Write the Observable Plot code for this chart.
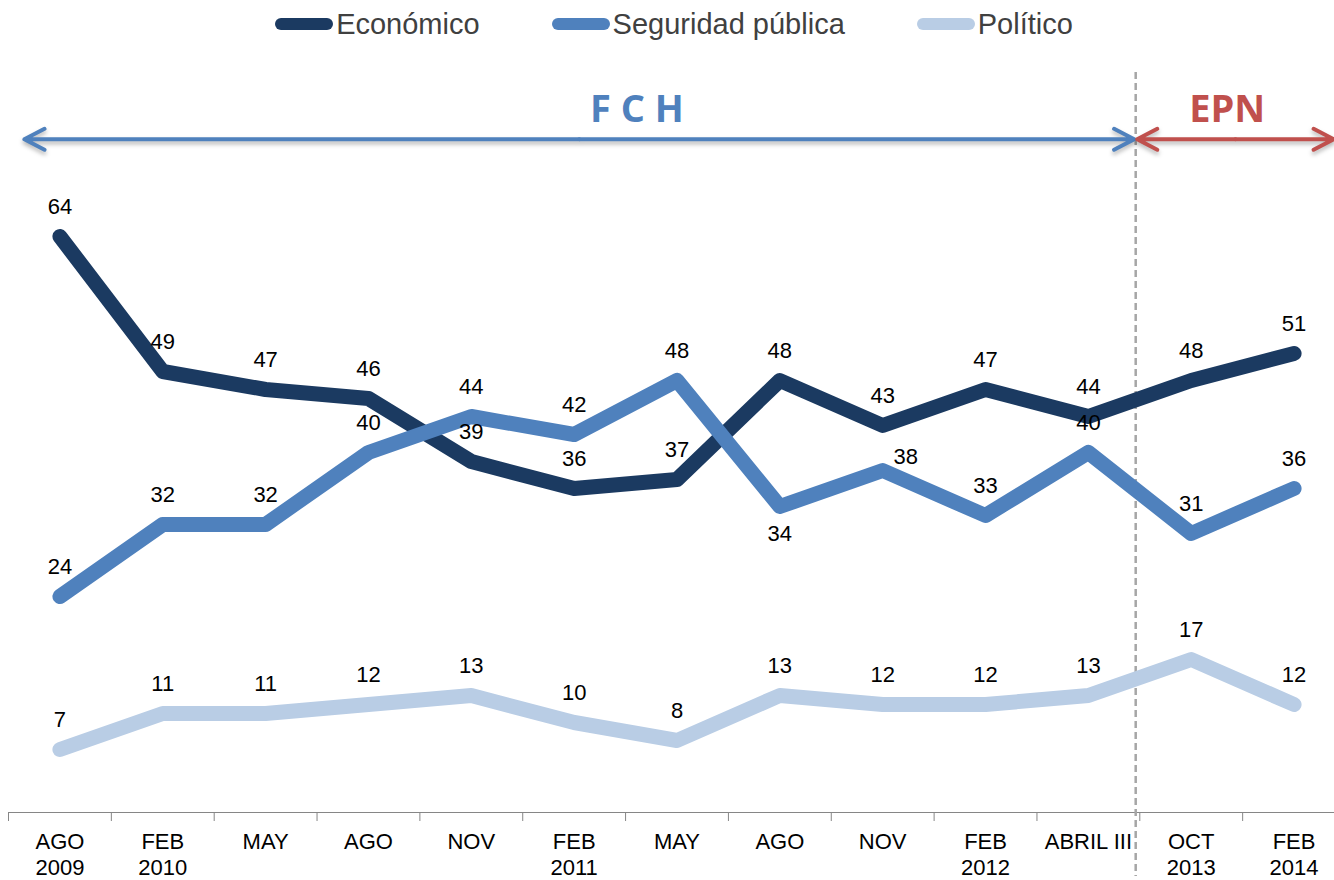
<!DOCTYPE html>
<html><head><meta charset="utf-8">
<script src="https://cdn.jsdelivr.net/npm/d3@7"></script>
<script src="https://cdn.jsdelivr.net/npm/@observablehq/plot@0.6"></script>
<style>
body{margin:0;background:#fff;font-family:"Liberation Sans",Arial,sans-serif;}
#legend{height:48px;display:flex;justify-content:center;align-items:center;padding-left:14px;box-sizing:border-box;width:1334px;}
.item{display:flex;align-items:center;margin:0 36px;}
.sw{width:58px;height:12px;border-radius:6px;margin-right:3px;}
.lb{font-size:29px;color:#404040;line-height:32px;}
#chart svg{display:block;}
svg g[aria-label="arrow"]{filter:drop-shadow(0px 3px 2px rgba(0,0,0,0.28));}
</style>
</head><body>
<div id="legend"></div>
<div id="chart"></div>
<script>
const months = ["AGO\n2009","FEB\n2010","MAY","AGO","NOV","FEB\n2011","MAY","AGO","NOV","FEB\n2012","ABRIL III","OCT\n2013","FEB\n2014"];
const economico = [64,49,47,46,39,36,37,48,43,47,44,48,51];
const seguridad = [24,32,32,40,44,42,48,34,38,33,40,31,36];
const politico  = [7,11,11,12,13,10,8,13,12,12,13,17,12];
const seriesNames = ["Económico","Seguridad pública","Político"];
const seriesColors = ["#1B3A61","#4F81BD","#B9CDE5"];
const eras = [
  {label:"F C H", start:-0.36, end:10.46, labelAt:5.61},
  {label:"EPN", start:10.46, end:12.4, labelAt:11.35}
];
const eraColors = ["#4F81BD","#C0504D"];
const eraBoundary = 10.46;
const eraRow = 74.8;

// legend
const leg = document.getElementById("legend");
seriesNames.forEach((s,k)=>{
  const it = document.createElement("div"); it.className="item";
  const sw = document.createElement("div"); sw.className="sw"; sw.style.background=seriesColors[k];
  const lb = document.createElement("span"); lb.className="lb"; lb.textContent=s;
  it.appendChild(sw); it.appendChild(lb); leg.appendChild(it);
});

const values = [economico, seguridad, politico];
const rows = seriesNames.flatMap((s,k)=>values[k].map((v,i)=>({series:s, i, value:v})));
const arrowRows = eras.flatMap(e=>{const m=(e.start+e.end)/2; return [{label:e.label,x1:m,x2:e.start},{label:e.label,x1:m,x2:e.end}];});

const isSeg = (d,i)=> d.series===seriesNames[1] && d.i===i;
const lineOpts = {x:"i", y:"value", strokeWidth:15, strokeLinecap:"round", strokeLinejoin:"round"};

const plot = Plot.plot({
  width:1334, height:830,
  marginLeft:8, marginRight:0, marginTop:26, marginBottom:66,
  style:{fontFamily:"'Liberation Sans', Arial, sans-serif", fontSize:"22px", background:"#fff", overflow:"visible"},
  x:{domain:[-0.5,12.5], range:[8,1345], axis:null},
  y:{domain:[0,82], axis:null},
  marks:[
    Plot.ruleY([0],{stroke:"#868686", strokeWidth:1.2}),
    Plot.axisX({ticks:d3.range(-0.5,13,1), tickSize:9, tickFormat:()=>"", stroke:"#868686"}),
    Plot.text(d3.range(months.length),{x:d=>d, text:d=>months[d], frameAnchor:"bottom", lineAnchor:"top", dy:18, fontSize:22, lineHeight:1.17, fill:"#000"}),
    Plot.ruleX([eraBoundary],{stroke:"#A6A6A6", strokeWidth:2.5, strokeDasharray:"7,4", insetTop:-2, insetBottom:-64}),
    Plot.line(rows.filter(d=>d.series===seriesNames[2]),{...lineOpts, stroke:seriesColors[2]}),
    Plot.line(rows.filter(d=>d.series===seriesNames[0]),{...lineOpts, stroke:seriesColors[0]}),
    Plot.line(rows.filter(d=>d.series===seriesNames[1]),{...lineOpts, stroke:seriesColors[1]}),
    Plot.text(rows.filter(d=>!isSeg(d,7) && !isSeg(d,8)),{x:"i", y:"value", text:d=>String(d.value), dy:-30, fontSize:22, fill:"#000"}),
    Plot.text(rows.filter(d=>isSeg(d,7)),{x:"i", y:"value", text:d=>String(d.value), dy:27, fontSize:22, fill:"#000"}),
    Plot.text(rows.filter(d=>isSeg(d,8)),{x:"i", y:"value", text:d=>String(d.value), dx:23, dy:-14, fontSize:22, fill:"#000"}),
    ...eras.map((e,k)=>Plot.arrow(arrowRows.filter(r=>r.label===e.label),{x1:"x1", x2:"x2", y1:()=>eraRow, y2:()=>eraRow, stroke:eraColors[k], strokeWidth:4, headAngle:55, headLength:8.5, insetEnd:1.5, strokeLinecap:"round", strokeLinejoin:"round"})),
    ...eras.map((e,k)=>Plot.text([e],{x:"labelAt", y:()=>eraRow, text:"label", dy:-29, fontSize:38, fontWeight:"bold", fontFamily:"'Open Sans', sans-serif", fill:eraColors[k]}))
  ]
});
document.getElementById("chart").appendChild(plot);
</script>
</body></html>
